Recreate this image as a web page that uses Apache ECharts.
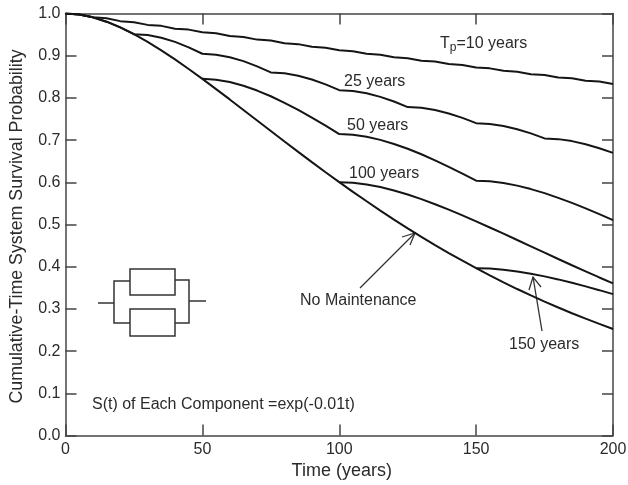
<!DOCTYPE html>
<html><head><meta charset="utf-8">
<style>html,body{margin:0;padding:0;background:#fff}#c{width:628px;height:485px}</style>
<script src="https://cdn.jsdelivr.net/npm/echarts@6/dist/echarts.min.js"></script>
</head><body><div id="c"></div>
<script>
const years = [0,5,10,15,20,25,30,35,40,45,50,55,60,65,70,75,80,85,90,95,100,105,110,115,120,125,130,135,140,145,150,155,160,165,170,175,180,185,190,195,200];
const noMaintenance = [1,.9976,.9909,.9806,.9671,.9511,.9328,.9128,.8913,.8686,.8452,.8209,.7964,.7715,.7466,.7217,.6967,.6721,.6479,.6238,.6004,.5773,.555,.5329,.5117,.4909,.4707,.4512,.4324,.4142,.3965,.3794,.363,.3471,.332,.3174,.3033,.2897,.2768,.2644,.2524];
const tp10 = [1,.9976,.9909,.9885,.9819,.9795,.973,.9707,.9641,.9618,.9554,.9531,.9467,.9444,.9381,.9358,.9296,.9274,.9212,.919,.9128,.9106,.9045,.9023,.8963,.8941,.8881,.886,.8801,.878,.8721,.87,.8641,.862,.8563,.8542,.8485,.8465,.8408,.8388,.8331];
const tp25 = [1,.9976,.9909,.9806,.9671,.9511,.9488,.9425,.9327,.9198,.9046,.9024,.8964,.8871,.8748,.8604,.8583,.8526,.8437,.8321,.8183,.8163,.8109,.8024,.7914,.7783,.7764,.7712,.7632,.7527,.7402,.7384,.7335,.7258,.7159,.704,.7023,.6976,.6903,.6808,.6696];
const tp50 = [null,null,null,null,null,null,null,null,null,null,.8452,.8432,.8375,.8288,.8174,.8039,.7884,.7715,.7533,.7341,.7144,.7127,.7079,.7005,.6909,.6795,.6664,.6521,.6367,.6205,.6038,.6024,.5983,.5921,.5839,.5743,.5632,.5512,.5382,.5245,.5103];
const tp100 = [null,null,null,null,null,null,null,null,null,null,null,null,null,null,null,null,null,null,null,null,.6004,.599,.5949,.5887,.5806,.571,.5601,.548,.5351,.5215,.5075,.4929,.4782,.4632,.4483,.4333,.4183,.4035,.389,.3745,.3605];
const tp150 = [null,null,null,null,null,null,null,null,null,null,null,null,null,null,null,null,null,null,null,null,null,null,null,null,null,null,null,null,null,null,.3965,.3955,.3929,.3888,.3835,.3771,.3699,.3619,.3534,.3444,.3351];
const seriesTable = [['No Maintenance',noMaintenance],['10 years',tp10],['25 years',tp25],['50 years',tp50],['100 years',tp100],['150 years',tp150]];

const FONT = '"Liberation Sans", Arial, sans-serif';
const INK = '#2b2b2b', AXIS = '#444';

const axisCommon = {
  min: 0,
  axisLine: {show: true, onZero: false, lineStyle: {color: AXIS, width: 1.5}},
  axisTick: {show: true, inside: true, length: 11, lineStyle: {color: AXIS, width: 1.5}},
  splitLine: {show: false},
  axisLabel: {show: false}
};
const labelStyle = {show: true, color: INK, fontFamily: FONT, fontSize: 16, hideOverlap: false};
const xAx = {...axisCommon, type: 'value', max: 200, interval: 50};
const yAx = {...axisCommon, type: 'value', max: 1, interval: 0.1};

function txt(x, y, text, extra) {
  return {type: 'text', x, y, silent: true, style: Object.assign({text, fill: INK, font: '16px ' + FONT, textVerticalAlign: 'middle'}, extra || {})};
}
function path(points, w, color) {
  return {type: 'polyline', silent: true, shape: {points}, style: {fill: null, stroke: color || '#333', lineWidth: w || 1.3}};
}
function box(x, y, width, height) {
  return {type: 'rect', silent: true, shape: {x, y, width, height}, style: {fill: null, stroke: '#333', lineWidth: 1.5}};
}

const chart = echarts.init(document.getElementById('c'), null, {renderer: 'canvas'});
chart.setOption({
  animation: false,
  backgroundColor: '#fff',
  grid: {left: 65.5, right: 15, top: 13.5, bottom: 49.5, containLabel: false, outerBoundsMode: 'none'},
  xAxis: [
    {...xAx, position: 'bottom', axisLabel: {...labelStyle, margin: 6, showMaxLabel: true}, name: 'Time (years)', nameLocation: 'middle', nameGap: 26,
      nameTextStyle: {color: INK, fontFamily: FONT, fontSize: 18, padding: [0, 0, 0, 5]}},
    {...xAx, position: 'top'}
  ],
  yAxis: [
    {...yAx, position: 'left', axisLabel: {...labelStyle, margin: 5, padding: [2, 0, 0, 0], formatter: v => v.toFixed(1)}, name: 'Cumulative-Time System Survival Probability', nameLocation: 'middle', nameGap: 39.5,
      nameTextStyle: {color: INK, fontFamily: FONT, fontSize: 17.8, padding: [0, 4, 0, 0]}},
    {...yAx, position: 'right'}
  ],
  series: seriesTable.map(([name, vals]) => ({
    name, type: 'line', showSymbol: false, symbol: 'none', smooth: false, connectNulls: false, clip: true,
    lineStyle: {color: '#151515', width: 2},
    data: years.map((t, i) => [t, vals[i]]).filter(p => p[1] !== null)
  })),
  graphic: [
    {type: 'text', x: 440, y: 44, silent: true, style: {
      text: 'T{sub|p}=10 years', fill: INK, font: '16px ' + FONT, textVerticalAlign: 'middle',
      rich: {sub: {font: '12px ' + FONT, fill: INK, verticalAlign: 'bottom', padding: [8, 0, 0, 0]}}
    }},
    txt(344, 82, '25 years'),
    txt(347, 126, '50 years'),
    txt(349, 174, '100 years'),
    txt(300, 301, 'No Maintenance'),
    txt(509, 345, '150 years'),
    txt(92, 405, 'S(t) of Each Component =exp(-0.01t)'),
    path([[360, 288], [415, 233]]),
    path([[402, 237], [415, 233], [410, 245]]),
    path([[542, 331], [533, 277]]),
    path([[529, 290], [533, 277], [541, 287]]),
    box(130, 269, 45, 26),
    box(130, 309, 45, 27),
    path([[130, 281], [114, 281], [114, 323], [130, 323]], 1.5),
    path([[175, 280], [189, 280], [189, 323], [175, 323]], 1.5),
    path([[98, 303], [114, 303]], 1.5),
    path([[189, 301], [206, 301]], 1.5)
  ]
});
</script></body></html>
